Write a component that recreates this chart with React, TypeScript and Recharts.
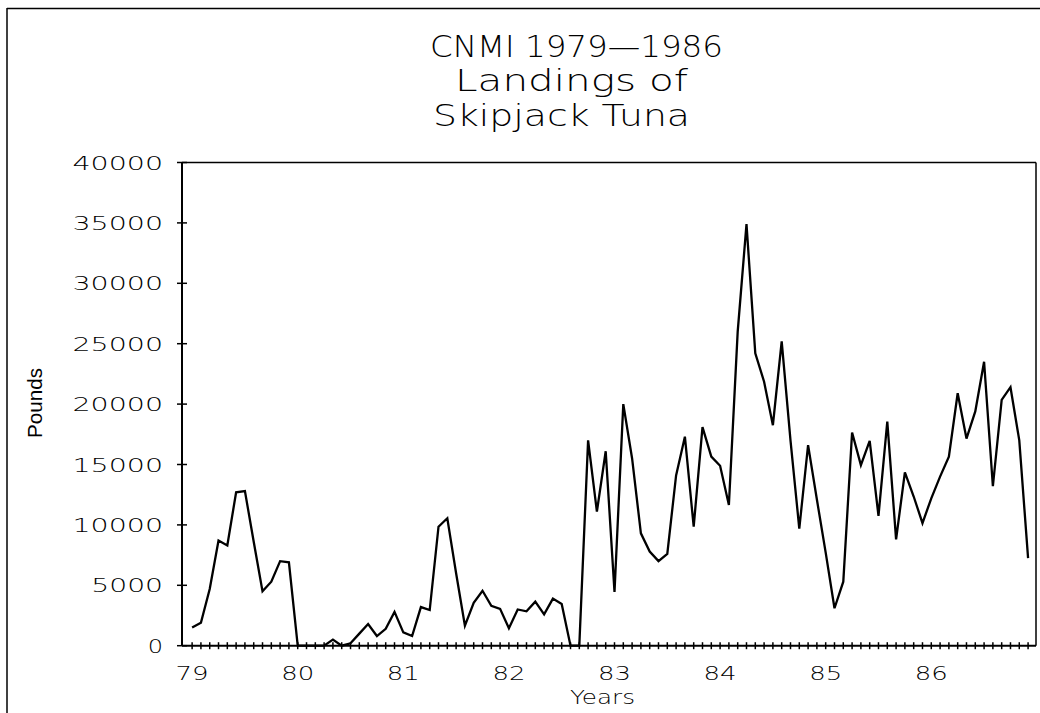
import React from 'react';
import { LineChart, Line, XAxis, YAxis, ReferenceLine } from 'recharts';

const yearLabels = ['79', '80', '81', '82', '83', '84', '85', '86'];

const landings1979 = [1500, 1900, 4700, 8700, 8300, 12700, 12800, 8600, 4500, 5300, 7000, 6900];
const landings1980 = [0, 0, 0, 0, 500, 0, 200, 1000, 1800, 800, 1400, 2800];
const landings1981 = [1100, 800, 3200, 2950, 9850, 10550, 6000, 1650, 3550, 4550, 3300, 3050];
const landings1982 = [1450, 3000, 2850, 3650, 2600, 3900, 3450, 0, 0, 17000, 11100, 16100];
const landings1983 = [4450, 20000, 15500, 9300, 7800, 7000, 7600, 14100, 17300, 9850, 18100, 15650];
const landings1984 = [14900, 11650, 26000, 34900, 24200, 21850, 18250, 25200, 17000, 9700, 16600, 12100];
const landings1985 = [7700, 3100, 5300, 17650, 14950, 16950, 10750, 18550, 8800, 14350, 12350, 10150];
const landings1986 = [12200, 14000, 15650, 20900, 17150, 19400, 23500, 13200, 20350, 21400, 17000, 7250];

const monthlyLandings = [
  ...landings1979, ...landings1980, ...landings1981, ...landings1982,
  ...landings1983, ...landings1984, ...landings1985, ...landings1986,
];

const poundTicks = [0, 5000, 10000, 15000, 20000, 25000, 30000, 35000, 40000];
const titleLines = ['CNMI 1979\u20141986', 'Landings of', 'Skipjack Tuna'];
const xTitle = 'Years';
const yTitle = 'Pounds';

const data = monthlyLandings.map((v, i) => ({ month: i, pounds: v }));
const monthTicks = monthlyLandings.map((_, i) => i);

const FONT = '"DejaVu Sans", sans-serif';
const WEIGHT = 200;

const XTick = (props: any) => {
  const { x, y, payload } = props;
  const v = payload.value as number;
  const isYear = v % 12 === 0;
  const label = isYear ? yearLabels[v / 12] : null;
  return (
    <g>
      <line x1={x} x2={x} y1={y - 3.5} y2={y + 3.5} stroke="#000" strokeWidth={1.5} />
      {label && (
        <text x={x} y={y + 34.5} textAnchor="middle" fontFamily={FONT} fontWeight={WEIGHT} fontSize={20}
          textLength={label.length * 18 - 3} lengthAdjust="spacingAndGlyphs" fill="#000">
          {label}
        </text>
      )}
    </g>
  );
};

const YTick = (props: any) => {
  const { x, y, payload } = props;
  const label = String(payload.value);
  return (
    <g>
      <line x1={x - 5} x2={x + 5} y1={y} y2={y} stroke="#000" strokeWidth={1.5} />
      <text x={x - 19} y={y + 7} textAnchor="end" fontFamily={FONT} fontWeight={WEIGHT} fontSize={20}
        textLength={label.length * 18.8 - 3.5} lengthAdjust="spacingAndGlyphs" fill="#000">
        {label}
      </text>
    </g>
  );
};

export default function App() {
  return (
    <div style={{ position: 'absolute', left: 0, top: 0, width: 1040, height: 713, background: '#fff' }}>
      <LineChart
        width={1040}
        height={713}
        data={data}
        margin={{ top: 162.5, right: 4, bottom: 27.3, left: 0 }}
      >
        <XAxis
          dataKey="month"
          type="number"
          domain={[-1.15, 95.9]}
          allowDataOverflow
          ticks={monthTicks}
          interval={0}
          tick={<XTick />}
          tickLine={false}
          tickSize={0}
          tickMargin={0}
          height={40}
          axisLine={{ stroke: '#000', strokeWidth: 2 }}
        />
        <YAxis
          type="number"
          domain={[0, 40000]}
          ticks={poundTicks}
          interval={0}
          width={182}
          tick={<YTick />}
          tickLine={false}
          tickSize={0}
          tickMargin={0}
          axisLine={{ stroke: '#000', strokeWidth: 2 }}
        />
        <ReferenceLine y={40000} stroke="#000" strokeWidth={1.5} ifOverflow="visible" />
        <ReferenceLine x={95.9} stroke="#000" strokeWidth={1.5} ifOverflow="visible" />
        <Line
          type="linear"
          dataKey="pounds"
          stroke="#000"
          strokeWidth={2.3}
          dot={false}
          isAnimationActive={false}
        />
      </LineChart>
      <svg width={1040} height={713} style={{ position: 'absolute', left: 0, top: 0, pointerEvents: 'none' }}>
        <line x1={7} x2={1040} y1={8.5} y2={8.5} stroke="#000" strokeWidth={1.5} />
        <line x1={7} x2={7} y1={8} y2={713} stroke="#000" strokeWidth={1.5} />
        <text x={430} y={57} fontFamily={FONT} fontWeight={WEIGHT} fontSize={30} textLength={293} lengthAdjust="spacingAndGlyphs" fill="#000">
          {titleLines[0]}
        </text>
        <text x={455} y={91} fontFamily={FONT} fontWeight={WEIGHT} fontSize={30} textLength={233} lengthAdjust="spacingAndGlyphs" fill="#000">
          {titleLines[1]}
        </text>
        <text x={433} y={126} fontFamily={FONT} fontWeight={WEIGHT} fontSize={30} textLength={257} lengthAdjust="spacingAndGlyphs" fill="#000">
          {titleLines[2]}
        </text>
        <text x={570} y={704} fontFamily={FONT} fontWeight={WEIGHT} fontSize={19} textLength={65} lengthAdjust="spacingAndGlyphs" fill="#000">
          {xTitle}
        </text>
        <text transform="translate(42, 403) rotate(-90)" textAnchor="middle" fontFamily='"Liberation Sans", Arial, sans-serif'
          fontSize={20} textLength={70} lengthAdjust="spacingAndGlyphs" fill="#000">
          {yTitle}
        </text>
      </svg>
    </div>
  );
}
